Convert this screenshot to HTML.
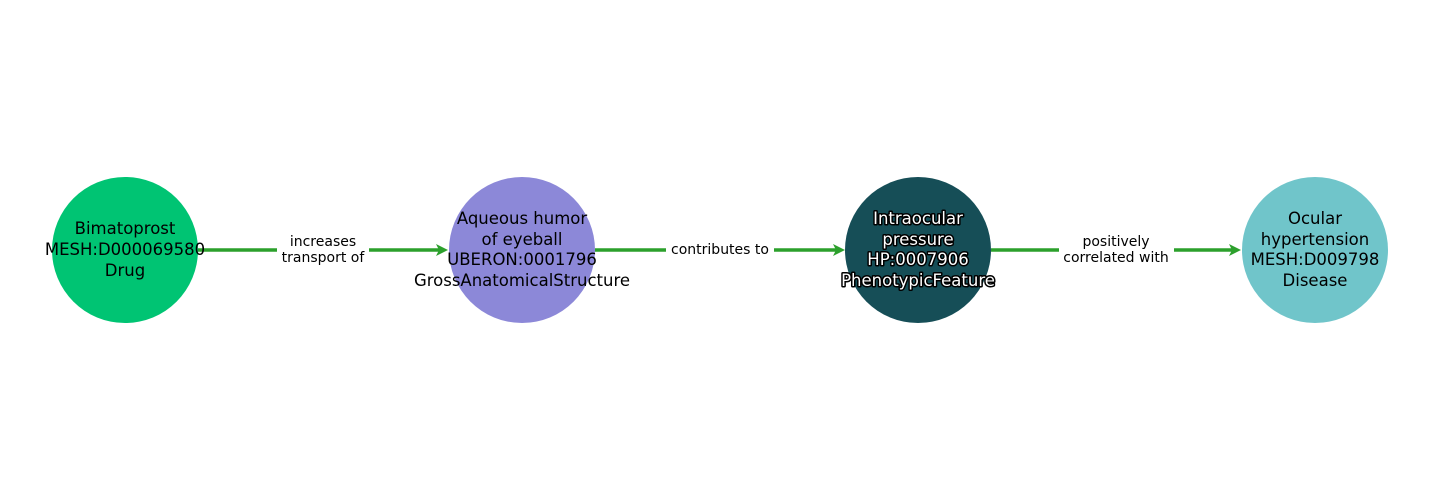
<!DOCTYPE html>
<html><head><meta charset="utf-8"><style>body{margin:0;background:#fff}svg{display:block}</style></head><body>
<svg width="1440" height="500" viewBox="0 0 1440 500" xmlns="http://www.w3.org/2000/svg" font-family="DejaVu Sans, Liberation Sans, sans-serif">
<g stroke="#2ca02c" stroke-width="3.5" fill="none">
<line x1="198" y1="250" x2="444" y2="250"/>
<line x1="595" y1="250" x2="840" y2="250"/>
<line x1="991" y1="250" x2="1237" y2="250"/>
</g>
<g fill="#2ca02c">
<polygon points="448,250 436,244 439,250 436,256"/>
<polygon points="845,250 833,244 836,250 833,256"/>
<polygon points="1241,250 1229,244 1232,250 1229,256"/>
</g>
<g fill="#fff">
<rect x="277" y="232" width="92" height="34"/>
<rect x="666" y="240" width="108" height="20"/>
<rect x="1059" y="232" width="115" height="34"/>
</g>
<g font-size="14" text-anchor="middle" fill="#000">
<text x="323" y="246">increases</text><text x="323" y="262">transport of</text>
<text x="720" y="254">contributes to</text>
<text x="1116" y="246">positively</text><text x="1116" y="262">correlated with</text>
</g>
<circle cx="125" cy="250" r="73" fill="#00c473"/>
<circle cx="522" cy="250" r="73" fill="#8c88d8"/>
<circle cx="918" cy="250" r="73" fill="#164e57"/>
<circle cx="1315" cy="250" r="73" fill="#70c5ca"/>
<g font-size="16.5" text-anchor="middle" fill="#000">
<text x="125" y="234">Bimatoprost</text><text x="125" y="255">MESH:D000069580</text><text x="125" y="276">Drug</text>
<text x="522" y="224">Aqueous humor</text><text x="522" y="245">of eyeball</text><text x="522" y="265">UBERON:0001796</text><text x="522" y="286">GrossAnatomicalStructure</text>
<text x="1315" y="224">Ocular</text><text x="1315" y="245">hypertension</text><text x="1315" y="265">MESH:D009798</text><text x="1315" y="286">Disease</text>
</g>
<g font-size="16.5" text-anchor="middle" fill="#fff" stroke="#000" stroke-width="3" paint-order="stroke" stroke-linejoin="round">
<text x="918" y="224">Intraocular</text><text x="918" y="245">pressure</text><text x="918" y="265">HP:0007906</text><text x="918" y="286">PhenotypicFeature</text>
</g>
</svg>
</body></html>
